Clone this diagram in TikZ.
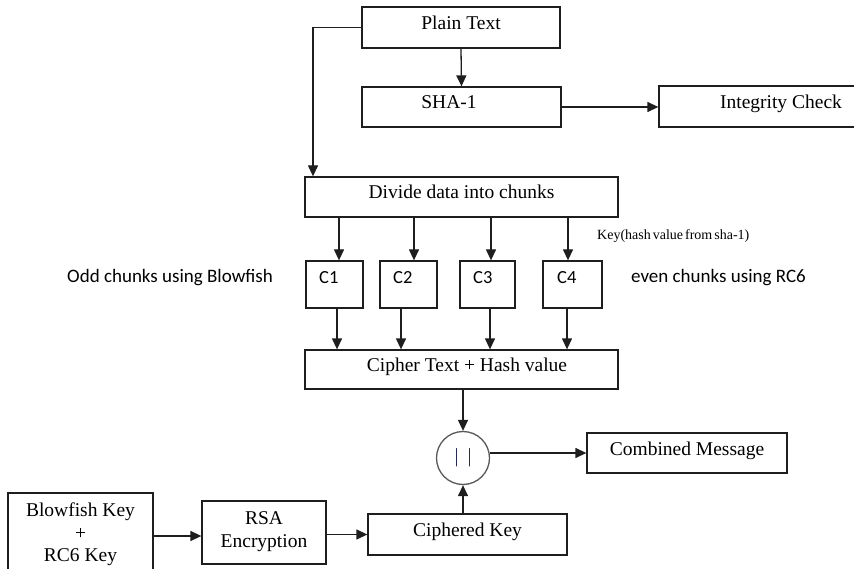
\documentclass[tikz,border=0pt]{standalone}
\usepackage{fontspec}
\setmainfont{Liberation Serif}
\newfontfamily\carl{Carlito}
\usetikzlibrary{arrows.meta}
\definecolor{bars}{RGB}{40,40,90}
\definecolor{edge}{RGB}{30,30,30}
\begin{document}
\begin{tikzpicture}[x=1pt,y=-1pt,
  box/.style={draw=edge, line width=1.3pt, rectangle, inner sep=0pt,
    font=\fontsize{19.5}{22.5}\selectfont, text height=14pt, text depth=10pt},
  arr/.style={draw=edge, line width=1.3pt, -{Triangle[length=11pt,width=10pt]}},
  serif/.style={font=\fontsize{19.5}{22.5}\selectfont, inner sep=0pt, align=center},
  sans/.style={font=\carl\fontsize{19}{22}\selectfont, inner sep=0pt},
  clab/.style={font=\carl\fontsize{18.5}{20}\selectfont, inner sep=0pt, anchor=base west},
]
\useasboundingbox (0,0) rectangle (854,569);
\fill[white] (0,0) rectangle (854,569);

% top part
\node[box, minimum width=198, minimum height=41] (plain) at (461,27.5) {Plain Text};
\node[box, minimum width=199, minimum height=40] (sha) at (461.5,107) {SHA-1\hspace*{25pt}};
\node[box, minimum width=244, minimum height=41] (integ) at (781,106.5) {Integrity Check};
\node[box, minimum width=313, minimum height=40] (divide) at (461.5,197) {Divide data into chunks};

% chunks
\node[box, minimum width=57, minimum height=47] (c1) at (334.5,284.5) {};
\node[box, minimum width=57, minimum height=47] (c2) at (408.5,284.5) {};
\node[box, minimum width=55, minimum height=47] (c3) at (487.5,284.5) {};
\node[box, minimum width=59, minimum height=47] (c4) at (572.5,284.5) {};
\node[clab] (c1t) at (319,284) {C1};
\node[clab] (c2t) at (393,284) {C2};
\node[clab] (c3t) at (473,284) {C3};
\node[clab] (c4t) at (557,284) {C4};

\node[sans, anchor=base west] (odd) at (67,283) {Odd chunks using Blowfish};
\node[sans, anchor=base west] (even) at (631,283) {even chunks using RC6};
\node[font=\fontsize{14}{16}\selectfont, anchor=base west, inner sep=0pt] (key) at (597,240)
  {\spaceskip=2pt plus 1pt Key(hash value from sha-1)};

\node[box, minimum width=313, minimum height=39] (cipher) at (461.5,369.5) {\hspace*{11pt}Cipher Text + Hash value};

% bottom part
\node[circle, draw=black!65, line width=1.3pt, minimum size=53pt, inner sep=0pt,
  font=\fontsize{20}{22.5}\selectfont] (circ) at (463,458) {\textcolor{bars}{|\hspace{9pt}|}};
\node[box, minimum width=200, minimum height=40] (comb) at (687,453) {Combined Message};
\node[box, minimum width=199, minimum height=41] (cipk) at (467.5,534.5) {Ciphered Key};
\node[box, minimum width=124, minimum height=63] (rsa) at (264,532.5) {};
\node[serif] (rsat) at (264,531.6) {RSA\\Encryption};
\node[box, minimum width=145, minimum height=86] (bf) at (80.5,536) {};
\node[serif] (bft) at (80.5,534.5) {Blowfish Key\\+\\RC6 Key};

% connectors
\coordinate (xl) at (313,0);
\draw[arr] (plain.west) -| (xl |- divide.north);
\draw[arr] (plain.south) -- (sha.north);
\draw[arr] (sha.east) -- (integ.west |- sha.east);

\coordinate (d1) at (339,0);
\coordinate (d2) at (414,0);
\coordinate (d3) at (491,0);
\coordinate (d4) at (568,0);
\draw[arr] (divide.south -| d1) -- (c1.north -| d1);
\draw[arr] (divide.south -| d2) -- (c2.north -| d2);
\draw[arr] (divide.south -| d3) -- (c3.north -| d3);
\draw[arr] (divide.south -| d4) -- (c4.north -| d4);

\coordinate (e1) at (337,0);
\coordinate (e2) at (401,0);
\coordinate (e3) at (490,0);
\coordinate (e4) at (567,0);
\draw[arr] (c1.south -| e1) -- (cipher.north -| e1);
\draw[arr] (c2.south -| e2) -- (cipher.north -| e2);
\draw[arr] (c3.south -| e3) -- (cipher.north -| e3);
\draw[arr] (c4.south -| e4) -- (cipher.north -| e4);

\draw[arr] (cipher.south -| circ) -- (circ.north);
\draw[arr] (circ.east |- comb.west) -- (comb.west);
\draw[arr] (cipk.north -| circ) -- (circ.south);
\draw[arr] (bf.east) -- (rsa.west |- bf.east);
\draw[arr] (rsa.east |- cipk.west) -- (cipk.west);
\end{tikzpicture}
\end{document}
